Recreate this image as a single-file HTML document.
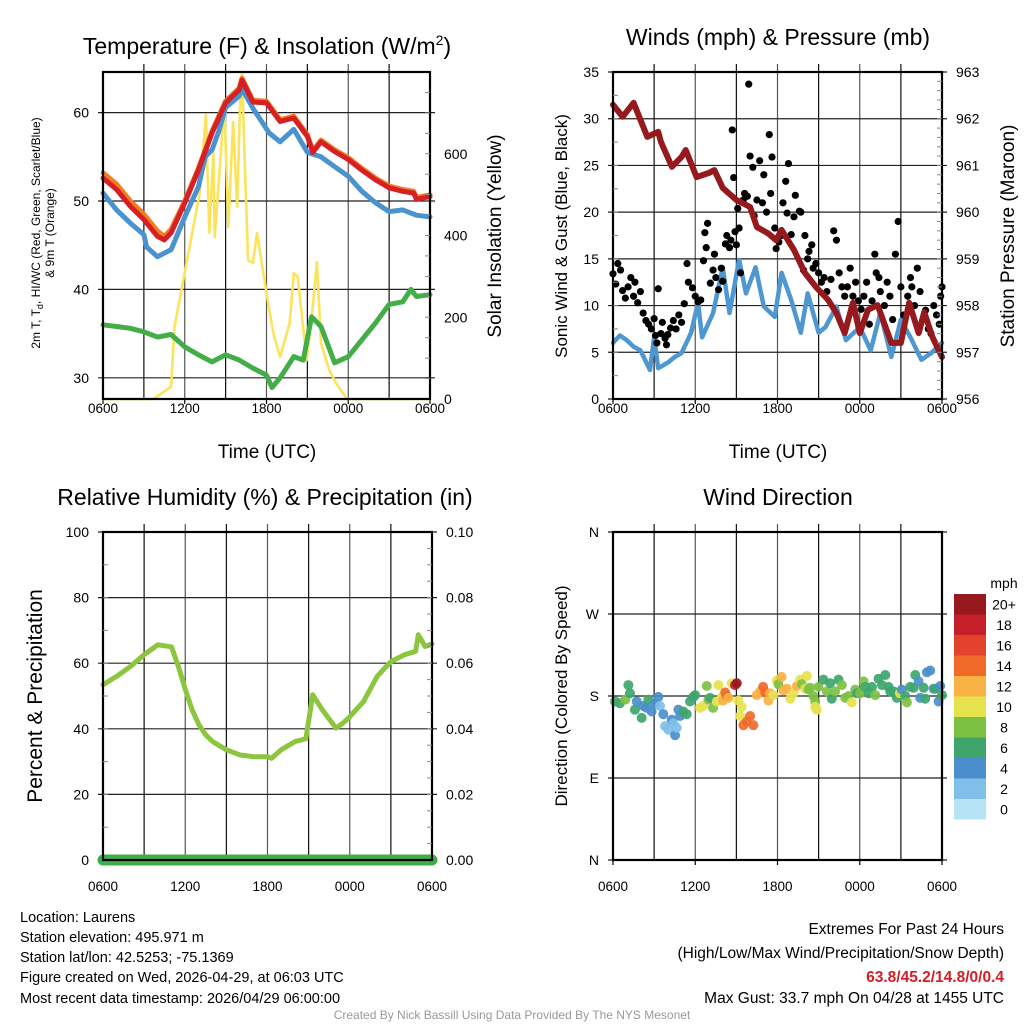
<!DOCTYPE html>
<html><head><meta charset="utf-8">
<style>
html,body{margin:0;padding:0;background:#fff;}
svg{display:block;font-family:"Liberation Sans",Arial,sans-serif;}
</style></head>
<body>
<svg id="chart" width="1024" height="1024" viewBox="0 0 1024 1024" xmlns="http://www.w3.org/2000/svg">
<rect x="0" y="0" width="1024" height="1024" fill="#fff"/>
<g id="layer"></g>
<text x="267" y="54" font-size="23" text-anchor="middle">Temperature (F) &amp; Insolation (W/m<tspan font-size="14" dy="-9">2</tspan><tspan dy="9">)</tspan></text>
<text x="778" y="45" font-size="23" text-anchor="middle">Winds (mph) &amp; Pressure (mb)</text>
<text x="265" y="505" font-size="23" text-anchor="middle">Relative Humidity (%) &amp; Precipitation (in)</text>
<text x="778" y="505" font-size="23" text-anchor="middle">Wind Direction</text>
<text x="267" y="458" font-size="19" text-anchor="middle">Time (UTC)</text>
<text x="778" y="458" font-size="19" text-anchor="middle">Time (UTC)</text>
<text transform="translate(40,233) rotate(-90)" font-size="12" text-anchor="middle">2m T, T<tspan font-size="9" dy="3">d</tspan><tspan dy="-3">, HI/WC (Red, Green, Scarlet/Blue)</tspan></text>
<text transform="translate(54,233) rotate(-90)" font-size="12" text-anchor="middle">&amp; 9m T (Orange)</text>
<text transform="translate(501,236) rotate(-90)" font-size="19" text-anchor="middle">Solar Insolation (Yellow)</text>
<text transform="translate(567,236) rotate(-90)" font-size="17" text-anchor="middle">Sonic Wind &amp; Gust (Blue, Black)</text>
<text transform="translate(1014,236) rotate(-90)" font-size="19" text-anchor="middle">Station Pressure (Maroon)</text>
<text transform="translate(42,696) rotate(-90)" font-size="21" text-anchor="middle">Percent &amp; Precipitation</text>
<text transform="translate(567,696) rotate(-90)" font-size="17" text-anchor="middle">Direction (Colored By Speed)</text>
<text x="1004" y="588" font-size="14" text-anchor="middle">mph</text>
<g font-size="14.5">
<text x="20" y="922">Location: Laurens</text>
<text x="20" y="942">Station elevation: 495.971 m</text>
<text x="20" y="962">Station lat/lon: 42.5253; -75.1369</text>
<text x="20" y="982">Figure created on Wed, 2026-04-29, at 06:03 UTC</text>
<text x="20" y="1003">Most recent data timestamp: 2026/04/29 06:00:00</text>
</g>
<g font-size="15.5" text-anchor="end">
<text x="1004" y="934">Extremes For Past 24 Hours</text>
<text x="1004" y="958">(High/Low/Max Wind/Precipitation/Snow Depth)</text>
<text x="1004" y="982" fill="#d21f26" font-weight="bold">63.8/45.2/14.8/0/0.4</text>
<text x="1004" y="1003">Max Gust: 33.7 mph On 04/28 at 1455 UTC</text>
</g>
<text x="512" y="1019" font-size="12" fill="#999" text-anchor="middle">Created By Nick Bassill Using Data Provided By The NYS Mesonet</text>
</svg>
<script>
// ---- Temperature panel data (hours since 0600 UTC) ----
const tempHours = [0,1,2,3,4,4.5,5,6,7,8,9,10,10.2,11,12,13,14,15,15.4,16,17,18,19,20,21,22,22.8,23,24];
const tempRed   = [52.6,51.3,49.4,47.9,46.0,45.6,46.4,49.8,53.5,57.7,61.1,62.6,63.7,61.2,61.1,59.0,59.4,57.3,55.5,56.7,55.6,54.7,53.5,52.4,51.5,51.1,50.9,50.2,50.5];
const tempOrange= [53.2,51.9,50.0,48.5,46.6,46.0,46.8,50.0,53.7,57.9,61.3,62.8,63.9,61.4,61.3,59.2,59.6,57.5,55.7,56.9,55.8,54.9,53.7,52.6,51.7,51.3,51.1,50.4,50.7];
const wcHours   = [0,1,2,3,3.2,4,5,6,7,7.5,8,8.5,9,10,10.2,11,12.2,13,14,15,16,17,18,19,20,21,22,23,24];
const wcBlue    = [50.9,49.0,47.5,46.2,44.8,43.7,44.5,48.2,51.6,55.0,55.8,57.9,60.6,61.9,62.7,60.5,57.7,56.7,58.1,55.5,55.0,53.9,52.8,51.1,49.8,48.8,49.0,48.4,48.2];
const dewHours  = [0,1,2,3,4,5,6,7,8,9,10,11,12,12.4,13,14,14.7,15.3,16,17,18,19,20,21,22,22.6,23,24];
const dewGreen  = [36.0,35.8,35.6,35.2,34.6,34.9,33.5,32.6,31.8,32.6,32.0,31.1,30.3,28.9,30.0,32.4,32.0,36.9,35.8,31.7,32.4,34.3,36.2,38.3,38.6,40.0,39.2,39.4];
const solHours  = [0,3.7,5.0,5.25,7.1,7.55,7.8,8.1,8.2,8.6,8.9,9.2,9.55,9.85,10.05,10.2,10.4,10.65,11.0,11.3,12.0,12.5,13.0,13.7,14.0,14.3,14.95,15.4,15.7,16.0,16.6,17.1,17.9,24];
const solar     = [0,0,30,176,504,695,406,602,396,577,724,421,678,470,707,797,585,340,333,406,259,161,103,186,308,298,95,225,335,137,71,39,0,0];
// ---- Winds panel ----
const presHours = [0,0.7,1.5,2.5,3.3,3.5,4.3,5,5.3,6.1,7,7.4,8,9,10,10.5,11.3,11.9,12.3,13.2,14,14.8,15.7,16.3,16.9,17.5,18,18.6,19.3,20.3,21,21.6,22.3,22.7,23.3,24];
const pressure  = [962.30,962.04,962.34,961.61,961.72,961.50,960.97,961.18,961.33,960.75,960.84,960.90,960.52,960.26,960.11,959.68,959.55,959.40,959.62,959.19,958.70,958.40,958.12,957.84,957.41,958.06,957.41,957.91,958.01,957.20,957.20,958.06,957.41,957.86,957.33,956.90];
const windHours = [0,0.5,1,1.5,2,2.7,3,3.3,4,4.5,5,5.7,6.2,6.5,7.3,8,8.5,9.2,9.7,10.4,11,11.8,12.3,13,13.7,14.2,15,15.5,16.3,17,18,18.8,19.5,20.3,21,21.8,22.5,23.2,24];
const windSpeed = [6.0,6.8,6.3,5.6,5.2,3.1,6.6,3.3,3.9,4.5,4.9,7.1,10.3,6.6,9.2,14.1,9.2,14.9,11.3,14.1,9.9,8.8,13.5,10.6,7.1,11.3,7.1,7.7,9.9,6.3,7.7,5.2,9.2,4.5,8.5,6.3,4.2,4.9,6.0];
const gustHours = [0,0.2,0.35,0.55,0.7,0.9,1.1,1.3,1.5,1.6,1.8,2.0,2.2,2.4,2.6,2.8,3.0,3.1,3.2,3.3,3.5,3.6,3.8,3.9,4.0,4.2,4.4,4.6,4.8,5.0,5.2,5.4,5.5,5.8,6.0,6.2,6.4,6.6,6.7,6.8,6.9,7.1,7.3,7.4,7.5,7.7,7.9,8.0,8.2,8.3,8.5,8.6,8.7,8.8,8.9,9.0,9.1,9.2,9.3,9.5,9.6,9.8,9.9,10.0,10.2,10.3,10.5,10.7,10.9,11.0,11.2,11.4,11.5,11.6,11.8,11.9,12.1,12.3,12.4,12.6,12.7,12.8,13.0,13.2,13.3,13.6,13.7,13.9,14.0,14.2,14.3,14.5,14.6,14.8,15.0,15.2,15.4,15.6,15.9,16.1,16.3,16.5,16.7,16.9,17.1,17.3,17.5,17.7,17.9,18.1,18.3,18.5,18.7,18.9,19.1,19.2,19.4,19.5,19.8,20.0,20.2,20.4,20.6,20.8,21.0,21.2,21.5,21.7,21.8,22.0,22.2,22.4,22.6,22.8,23.0,23.2,23.4,23.6,23.8,23.9,24.0];
const gustSpeed = [13.4,12.3,14.5,13.8,11.6,10.8,12.0,13.0,11.0,12.5,10.3,11.5,9.2,8.4,8.0,7.5,8.6,6.8,6.0,11.8,7.0,8.2,6.5,5.8,6.9,7.6,8.4,7.5,9.0,8.2,10.2,14.5,12.5,11.9,11.0,10.4,10.6,14.8,17.8,16.2,18.8,12.4,13.8,15.5,13.0,11.7,14.0,12.6,16.6,17.5,16.2,17.0,28.8,23.7,17.9,16.5,20.4,18.3,13.5,21.3,22.0,21.7,33.7,26.0,24.8,19.6,21.3,25.5,21.0,24.0,20.0,28.3,22.0,25.9,18.3,16.1,16.8,17.5,21.0,23.3,19.9,25.2,17.6,19.5,21.8,20.1,20.0,13.8,17.5,15.0,15.8,16.5,14.0,14.5,13.5,12.5,13.0,11.5,12.8,18.0,17.0,13.5,12.0,11.0,12.0,14.0,11.0,12.5,10.5,9.6,11.0,12.5,8.0,10.5,15.5,13.5,13.0,11.5,10.0,12.5,11.0,8.5,15.5,19.0,12.0,9.0,11.0,13.0,12.0,10.0,14.0,11.5,8.5,9.5,7.5,7.0,10.0,9.0,8.0,11.0,12.0];
// ---- Humidity panel ----
const rhHours = [0,1,2,3,4,5,5.5,6,6.5,7,7.5,8,9,10,11,12,12.3,13,14,14.8,15.3,16,17,17.5,18,19,20,21,22,22.8,23,23.5,24];
const rhValues= [53.4,56,59,62.6,65.6,65,59,52,45.8,41.2,38.1,36.1,33.6,32,31.5,31.5,31,33.6,36.1,37,50.4,45.8,40.2,41.7,43.7,48.3,56,60.5,62.6,63.6,68.7,65.1,65.9];
const precipHours = [0,24];
const precipValues= [0,0];
// ---- Wind direction panel ----
const dirHours = [0.15,0.5,0.9,1.12,1.24,1.6,1.73,2.09,2.21,2.46,2.58,2.82,3.07,3.31,3.43,3.67,3.8,4.04,4.28,4.4,4.53,4.65,4.77,4.89,5.13,5.38,5.62,5.86,5.99,6.35,6.59,6.84,6.96,7.08,7.3,7.57,7.69,7.93,8.03,8.18,8.3,8.42,8.66,8.9,9.03,9.15,9.27,9.39,9.51,9.76,10.0,10.24,10.49,10.73,10.95,11.1,11.34,11.46,11.7,11.95,12.07,12.3,12.44,12.68,12.93,13.17,13.41,13.66,13.77,14.02,14.14,14.26,14.38,14.62,14.75,14.75,14.87,14.99,15.35,15.6,15.84,15.96,16.2,16.45,16.69,16.94,17.18,17.42,17.67,17.79,18.03,18.28,18.4,18.64,18.89,19.13,19.37,19.62,19.86,20.1,20.22,20.47,20.71,20.93,21.07,21.32,21.44,21.68,21.93,22.05,22.29,22.41,22.66,22.78,22.9,23.14,23.39,23.51,23.75,23.87,24.0];
const dirDeg   = [174,172,176,192,183,165,174,156,169,167,176,163,172,179,169,160,147,143,154,150,137,145,165,158,163,160,174,179,181,167,169,191,176,178,167,174,192,179,175,184,180,178,194,192,194,175,158,168,148,152,158,148,181,185,190,184,175,183,181,197,193,201,186,188,177,183,191,198,193,188,202,187,189,180,174,168,165,190,198,185,194,177,185,198,192,178,180,173,187,183,183,196,190,183,190,181,199,192,203,190,185,185,178,183,187,180,173,190,189,203,196,178,189,177,206,208,188,188,174,191,181,198,189,186];
const dirSpeed = [6,6,8,6,6,6,4,6,4,4,6,4,4,4,2,4,2,2,4,2,4,2,4,4,6,6,6,6,6,10,10,8,8,6,8,10,10,10,12,14,14,12,10,18,20,10,10,10,14,14,14,14,12,12,14,14,12,12,10,10,8,12,12,12,10,10,12,10,8,10,10,8,8,8,8,10,10,8,6,8,6,6,8,6,8,8,8,10,8,6,8,8,6,6,6,8,6,6,6,6,6,6,6,10,4,6,8,6,6,6,4,4,6,6,4,4,4,6,4,4,6,6];
const speedColorLabels = ["0","2","4","6","8","10","12","14","16","18","20+"];
const speedColors = ["#b7e3f7","#80bfe8","#4a8fcb","#3ea66c","#7dc143","#e6e24e","#f9b244","#f06a2a","#e3432c","#c51f29","#961a1d"];

const tempTicks=[30,40,50,60], solTicks=[0,200,400,600], timeLabels=["0600","1200","1800","0000","0600"];
const windTicks=[0,5,10,15,20,25,30,35], presTicks=[956,957,958,959,960,961,962,963];
const rhTicks=[0,20,40,60,80,100], precipTicks=["0.00","0.02","0.04","0.06","0.08","0.10"];
const dirLabels=["N","E","S","W","N"];

const NS="http://www.w3.org/2000/svg";
const layer=document.getElementById('layer');
function mk(tag,attrs,parent){const e=document.createElementNS(NS,tag);for(const k in attrs)e.setAttribute(k,attrs[k]);(parent||layer).appendChild(e);return e;}

function panel(x0,x1,y0,y1){
  return {x0,x1,y0,y1,xs:h=>x0+h/24*(x1-x0),ys:(v,lo,hi)=>y1-(v-lo)/(hi-lo)*(y1-y0)};
}
function frame(p,name,gridYs,labOff){
  const g=mk('g',{});
  
  
  for(let k=1;k<8;k++){const x=p.x0+k*(p.x1-p.x0)/8;const l=mk('line',{x1:x,x2:x,y1:p.y0-8,y2:p.y1,stroke:k%2?'#111':'#555','stroke-width':1.2},g);
    }
  gridYs.forEach(y=>{const l=mk('line',{x1:p.x0-5,x2:p.x1+5,y1:y,y2:y,stroke:'#222','stroke-width':1.2},g);
    });
  timeLabels.forEach((t,i)=>{const x=p.x0+i*(p.x1-p.x0)/4;
    mk('line',{x1:x,x2:x,y1:p.y1,y2:p.y1+5,stroke:'#000','stroke-width':1.2},g);
    const tx=mk('text',{x:x,y:p.y1+labOff,'font-size':13.5,'text-anchor':'middle'},g);tx.textContent=t;
    });
  return g;
}
function border(p){const r=mk('rect',{x:p.x0,y:p.y0,width:p.x1-p.x0,height:p.y1-p.y0,fill:'none',stroke:'#000','stroke-width':2.2});
  }
function ylabels(p,vals,lo,hi,side,fmt){vals.forEach(v=>{const y=p.ys(typeof v==='string'?parseFloat(v):v,lo,hi);
  const t=mk('text',{x:side==='l'?p.x0-14:p.x1+14,y:y+5,'font-size':14,'text-anchor':side==='l'?'end':'start'});
  t.textContent=fmt?fmt(v):v;});}
function minor(p,side,n){for(let i=1;i<n;i++){const y=p.y0+i*(p.y1-p.y0)/n;const x=side==='r'?p.x1:p.x0;
  mk('line',{x1:x,x2:side==='r'?x-5:x+5,y1:y,y2:y,stroke:'#888','stroke-width':1});}}
function path(p,hs,vs,lo,hi,color,w,name){
  let d='';hs.forEach((h,i)=>{d+=(i?'L':'M')+p.xs(h).toFixed(1)+','+p.ys(vs[i],lo,hi).toFixed(1);});
  const e=mk('path',{d:d,fill:'none',stroke:color,'stroke-width':w,'stroke-linejoin':'round','stroke-linecap':'round'});
  return e;}

// Panel 1
const p1=panel(103,430,72,399);
frame(p1,'temperature',tempTicks.map(v=>p1.ys(v,27.6,64.6)),14);
path(p1,solHours,solar,0,800,'#fbe35c',2.6,'insolation-line');
path(p1,dewHours,dewGreen,27.6,64.6,'#43ad48',5,'dewpoint-line');
path(p1,wcHours,wcBlue,27.6,64.6,'#4b93cf',5,'windchill-line');
path(p1,tempHours,tempOrange,27.6,64.6,'#f47c22',5,'9m-temperature-line');
path(p1,tempHours,tempRed,27.6,64.6,'#d71f26',5,'2m-temperature-line');
border(p1);
ylabels(p1,tempTicks,27.6,64.6,'l');
ylabels(p1,solTicks,0,800,'r');
minor(p1,'r',16);

// Panel 2
const p2=panel(613,942,72,399);
frame(p2,'winds',windTicks.map(v=>p2.ys(v,0,35)),14);
path(p2,windHours,windSpeed,0,35,'#4e97d1',4.5,'wind-speed-line');
gustHours.forEach((h,i)=>{const c=mk('circle',{cx:p2.xs(h),cy:p2.ys(gustSpeed[i],0,35),r:3.6,fill:'#000'});
  });
path(p2,presHours,pressure,956,963,'#961a1d',6,'pressure-line');
border(p2);
ylabels(p2,windTicks,0,35,'l');
ylabels(p2,presTicks,956,963,'r');
minor(p2,'r',35);minor(p2,'l',14);

// Panel 3
const p3=panel(103,432,532,860);
frame(p3,'humidity',rhTicks.map(v=>p3.ys(v,0,100)),31);
path(p3,rhHours,rhValues,0,100,'#8cc63f',5,'relative-humidity-line');
path(p3,precipHours,precipValues.map(v=>v*1000),0,100,'#3fae49',11,'precipitation-line');
border(p3);
ylabels(p3,rhTicks,0,100,'l');
ylabels(p3,precipTicks,0,0.1,'r');
minor(p3,'r',20);minor(p3,'l',10);

// Panel 4
const p4=panel(613,942,532,860);
frame(p4,'wind-direction',[0,90,180,270,360].map(v=>p4.ys(v,0,360)),31);
dirHours.forEach((h,i)=>{const idx=Math.min(10,Math.round(dirSpeed[i]/2));
  const c=mk('circle',{cx:p4.xs(h),cy:p4.ys(dirDeg[i],0,360),r:5,fill:speedColors[idx],'fill-opacity':0.92});
  });
border(p4);
dirLabels.forEach((t,i)=>{const tx=mk('text',{x:p4.x0-14,y:p4.ys(i*90,0,360)+5,'font-size':14,'text-anchor':'end'});tx.textContent=t;
  });

// Colorbar
const cbTop=594,cbH=20.5;
speedColorLabels.forEach((lab,i)=>{const j=10-i;const y=cbTop+j*cbH;
  const r=mk('rect',{x:954,y:y,width:32,height:cbH,fill:speedColors[i]});
  
  const t=mk('text',{x:1004,y:y+cbH/2+5,'font-size':14,'text-anchor':'middle'});t.textContent=lab;
  });
</script>
</body></html>
